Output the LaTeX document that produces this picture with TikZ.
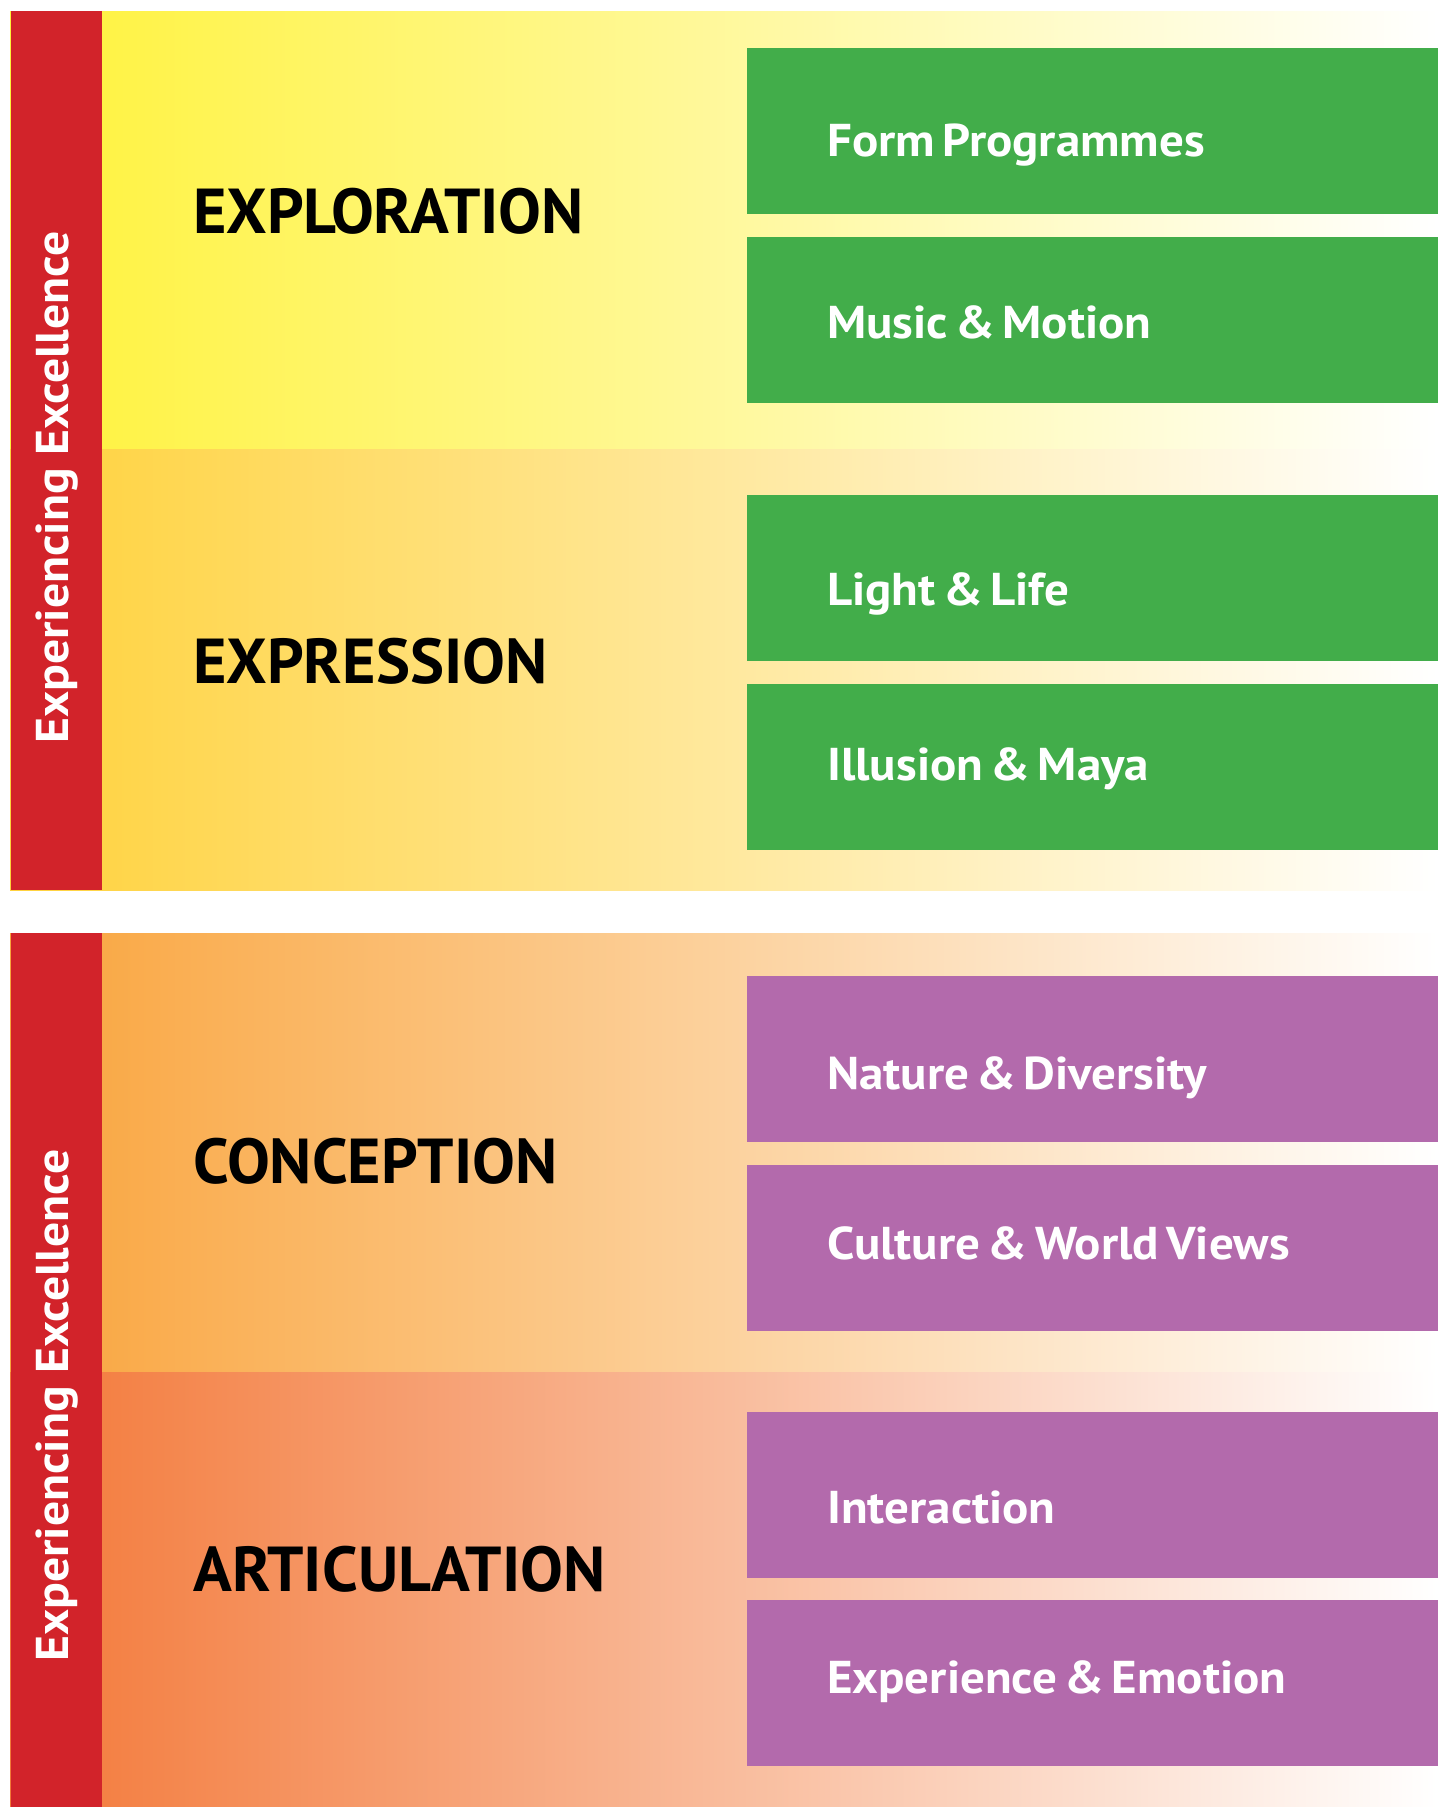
\documentclass[tikz,border=0pt]{standalone}
\usepackage{fontspec}
\setmainfont{PT Sans}
\newfontfamily\boxfont[FakeStretch=1.065,WordSpace=0.6]{PT Sans}
\newfontfamily\sidefont[FakeStretch=1.08]{PT Sans}
\newfontfamily\stagefont[FakeStretch=1.01]{PT Sans}
\definecolor{cred}{RGB}{210,35,42}
\definecolor{cgreen}{RGB}{66,173,74}
\definecolor{cpurple}{RGB}{179,106,172}
\definecolor{cyel}{RGB}{255,242,58}
\definecolor{cexp}{RGB}{255,210,60}
\definecolor{ccon}{RGB}{249,164,60}
\definecolor{cart}{RGB}{243,120,56}
\tikzset{
  band/.style={right color=white},
  sidebar/.style={fill=cred},
  topic/.style={anchor=north west, minimum width=691pt, minimum height=166pt, inner sep=0pt, draw=none},
  greenbox/.style={topic, fill=cgreen},
  purplebox/.style={topic, fill=cpurple},
  topictext/.style={anchor=base west, inner sep=0pt, text=white, font=\boxfont\fontsize{46}{50}\selectfont\bfseries},
  stagetext/.style={anchor=base west, inner sep=0pt, text=black, font=\stagefont\fontsize{63.5}{70}\selectfont\bfseries},
  sidetext/.style={anchor=base west, inner sep=0pt, rotate=90, text=white, font=\sidefont\fontsize{46}{50}\selectfont\bfseries}
}
\begin{document}
\begin{tikzpicture}[x=1pt,y=-1pt]
\useasboundingbox (0,0) rectangle (1438,1807);
% bands
\shade[band, left color=cyel] (10,11) rectangle (1438,449);
\shade[band, left color=cexp] (10,449) rectangle (1438,890);
\shade[band, left color=ccon] (10,933) rectangle (1438,1372);
\shade[band, left color=cart] (10,1372) rectangle (1438,1807);
% side bars
\fill[sidebar] (11,11) rectangle (102,890);
\fill[sidebar] (11,933) rectangle (102,1807);
\node[sidetext] (side1) at (68,744) {Experiencing Excellence};
\node[sidetext] (side2) at (68,1662) {Experiencing Excellence};
% stage labels
\node[stagetext] (explo) at (193,233) {EXPLORATION};
\node[stagetext] (expre) at (193,683) {EXPRESSION};
\node[stagetext] (conce) at (193,1183) {CONCEPTION};
\node[stagetext] (artic) at (193,1591) {ARTICULATION};
% topic boxes
\node[greenbox] (b1) at (747,48) {};
\node[greenbox] (b2) at (747,237) {};
\node[greenbox] (b3) at (747,495) {};
\node[greenbox] (b4) at (747,684) {};
\node[purplebox] (b5) at (747,976) {};
\node[purplebox] (b6) at (747,1165) {};
\node[purplebox] (b7) at (747,1412) {};
\node[purplebox] (b8) at (747,1600) {};
% topic texts
\node[topictext] (t1) at (827,156) {Form Programmes};
\node[topictext] (t2) at (827,338) {Music \& Motion};
\node[topictext] (t3) at (827,605) {Light \& Life};
\node[topictext] (t4) at (827,780) {Illusion \& Maya};
\node[topictext] (t5) at (827,1089) {Nature \& Diversity};
\node[topictext] (t6) at (827,1259) {Culture \& World Views};
\node[topictext] (t7) at (827,1523) {Interaction};
\node[topictext] (t8) at (827,1693) {Experience \& Emotion};
\end{tikzpicture}
\end{document}
